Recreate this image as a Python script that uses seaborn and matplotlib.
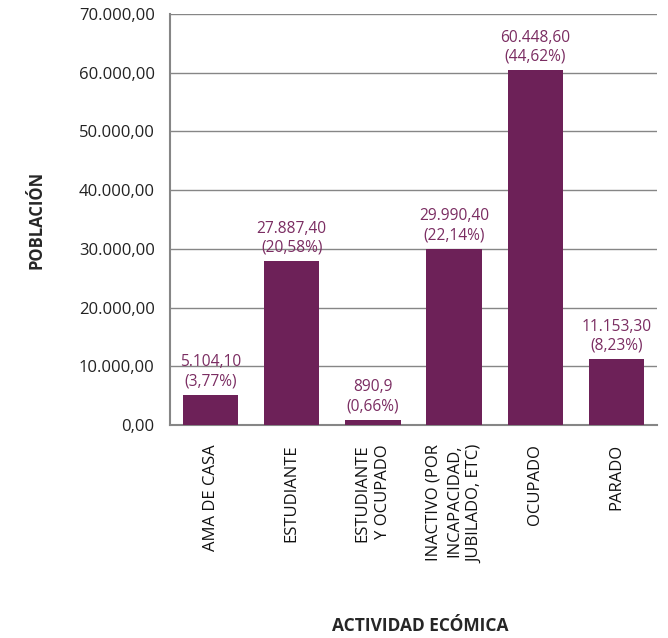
import pandas as pd
import numpy as np
import matplotlib
matplotlib.use('Agg')
import matplotlib.pyplot as plt
import seaborn as sns

categorias = ['AMA DE CASA', 'ESTUDIANTE', 'ESTUDIANTE\nY OCUPADO',
              'INACTIVO (POR\nINCAPACIDAD,\nJUBILADO, ETC)', 'OCUPADO', 'PARADO']
poblacion = [5104.10, 27887.40, 890.9, 29990.40, 60448.60, 11153.30]
etiquetas = ['5.104,10\n(3,77%)', '27.887,40\n(20,58%)', '890,9\n(0,66%)',
             '29.990,40\n(22,14%)', '60.448,60\n(44,62%)', '11.153,30\n(8,23%)']
y_ticks = [0, 10000, 20000, 30000, 40000, 50000, 60000, 70000]
y_ticklabels = ['0,00', '10.000,00', '20.000,00', '30.000,00', '40.000,00',
                '50.000,00', '60.000,00', '70.000,00']

df = pd.DataFrame({'actividad': categorias, 'poblacion': poblacion})

sns.set_style('white')
plt.rcParams['font.family'] = ['Open Sans', 'DejaVu Sans']

bar_color = '#6D2158'
label_color = '#7B2D62'
grey = '#868686'

fig = plt.figure(figsize=(6.68, 6.38), dpi=100)
ax = fig.add_axes([0.2545, 0.334, 0.729, 0.644])

sns.barplot(data=df, x='actividad', y='poblacion', color=bar_color,
            width=0.68, saturation=1, ax=ax, zorder=3,
            edgecolor=bar_color, linewidth=0)

ax.set_ylim(0, 70000)
ax.set_xlim(-0.5, len(categorias) - 0.5)
ax.set_yticks(y_ticks)
ax.set_yticklabels(y_ticklabels, fontsize=12, color='#222222')
ax.yaxis.grid(True, color=grey, linewidth=1.0, zorder=0)

# ticks on category boundaries
ax.set_xticks(np.arange(len(categorias)))
ax.set_xticklabels(categorias, rotation=90, fontsize=12, va='top',
                   ha='center', multialignment='right', color='#111111',
                   linespacing=1.4)
ax.set_xticks(np.arange(len(categorias) + 1) - 0.5, minor=True)
ax.tick_params(axis='x', which='major', length=0, pad=14)
ax.tick_params(axis='x', which='minor', length=6, color=grey, width=1.2,
               direction='out')
ax.tick_params(axis='y', length=7, color=grey, width=1.2, direction='out', pad=4)

for s in ['top', 'right']:
    ax.spines[s].set_visible(False)
for s in ['left', 'bottom']:
    ax.spines[s].set_color(grey)
    ax.spines[s].set_linewidth(1.5)

for i, (v, t) in enumerate(zip(poblacion, etiquetas)):
    ax.annotate(t, xy=(i, v), xytext=(0, 4), textcoords='offset points',
                ha='center', va='bottom', fontsize=11.2, color=label_color,
                linespacing=1.25)

ax.set_ylabel('POBLACIÓN', fontsize=12, fontweight='bold')
ax.set_xlabel('')
ax.yaxis.set_label_coords(-0.255, 0.5)
fig.text(0.629, 0.005, 'ACTIVIDAD ECÓMICA', fontsize=12.5, fontweight='bold',
         ha='center', va='bottom')

fig.savefig('out.png', dpi=100)
